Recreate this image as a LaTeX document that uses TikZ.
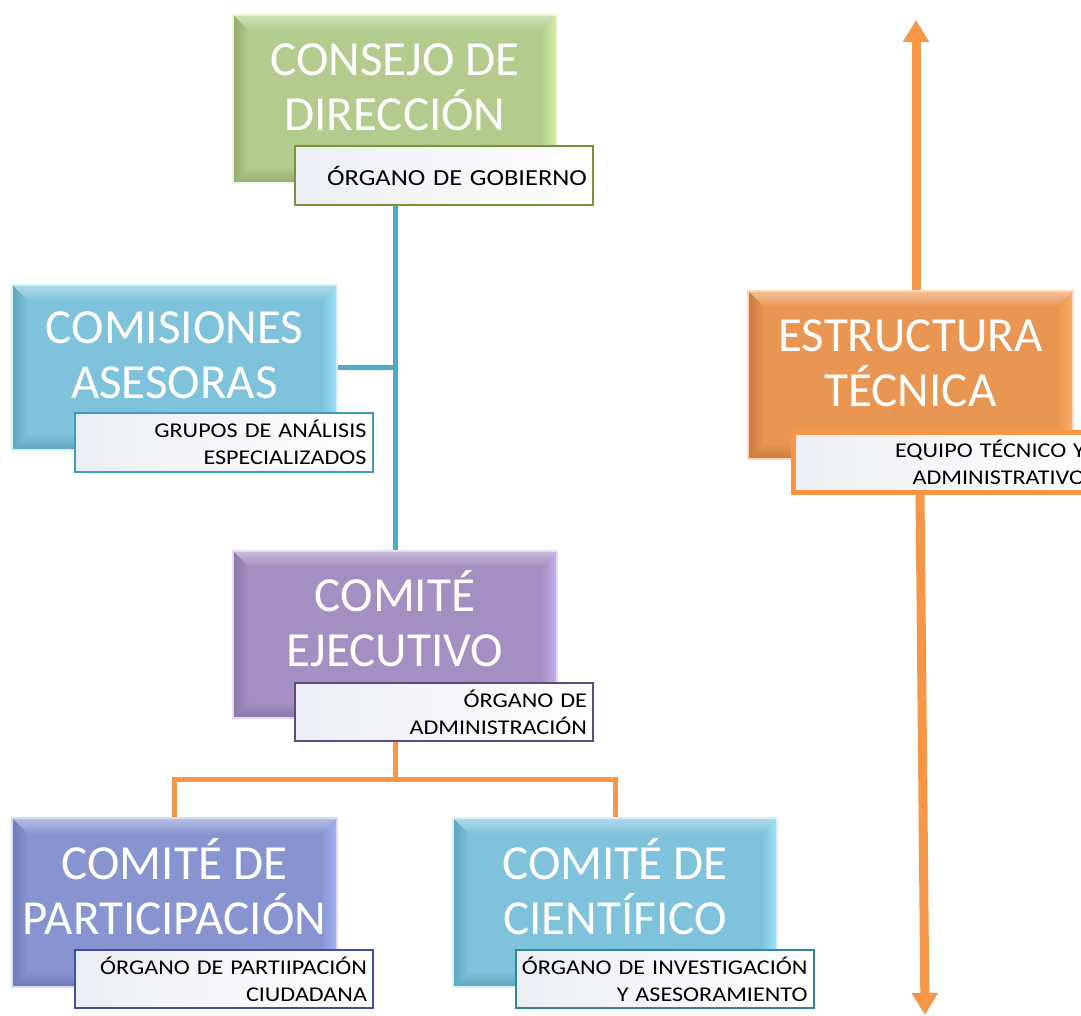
\documentclass[tikz,border=0pt]{standalone}
\usepackage{fontspec}
\setmainfont{Carlito}
\newfontfamily\lblfont[FakeStretch=1.15]{Carlito}
\usetikzlibrary{arrows.meta,backgrounds}
\definecolor{gBase}{HTML}{B3CB8C}\definecolor{gDark}{HTML}{93AD6E}\definecolor{gLight}{HTML}{D6F0A8}\definecolor{gBorder}{HTML}{77933C}
\definecolor{bBase}{HTML}{7EC2DB}\definecolor{bDark}{HTML}{5FA3BD}\definecolor{bLight}{HTML}{9BE3FA}\definecolor{bBorder}{HTML}{3E9DBB}
\definecolor{pBase}{HTML}{A48FC2}\definecolor{pDark}{HTML}{8A76A8}\definecolor{pLight}{HTML}{C4B0EA}\definecolor{pBorder}{HTML}{604A7B}
\definecolor{vBase}{HTML}{8894D0}\definecolor{vDark}{HTML}{6E7AB4}\definecolor{vLight}{HTML}{A3B3F6}\definecolor{vBorder}{HTML}{3F4FA0}
\definecolor{oBase}{HTML}{EA9653}\definecolor{oDark}{HTML}{C97A41}\definecolor{oLight}{HTML}{FBAE62}\definecolor{oLine}{HTML}{F79646}
\definecolor{cBorder}{HTML}{31859C}\definecolor{tealLine}{HTML}{4BACC6}\definecolor{lblL}{HTML}{EBEEF4}
\newcommand{\nohyph}{\hyphenpenalty=10000\relax\exhyphenpenalty=10000\relax}
\tikzset{
  mbox/.style n args={3}{rectangle, inner sep=0pt, fill=#1, draw=#3!45, line width=2.5pt,
    path picture={
      \path (path picture bounding box.north west) coordinate (pnw)
            (path picture bounding box.north east) coordinate (pne)
            (path picture bounding box.south west) coordinate (psw)
            (path picture bounding box.south east) coordinate (pse);
      \shade[top color=#1!60!white, bottom color=#1] (pnw) -- (pne) -- ([shift={(-16,16)}]pne) -- ([shift={(16,16)}]pnw) -- cycle;
      \shade[top color=#1, bottom color=#2] (psw) -- (pse) -- ([shift={(-16,-16)}]pse) -- ([shift={(16,-16)}]psw) -- cycle;
      \shade[left color=#2, right color=#1] (pnw) -- ([shift={(16,16)}]pnw) -- ([shift={(16,-16)}]psw) -- (psw) -- cycle;
      \shade[left color=#1, right color=#3] (pne) -- (pse) -- ([shift={(-16,-16)}]pse) -- ([shift={(-16,16)}]pne) -- cycle;
    }},
  mtext/.style={text=white, font=\fontsize{49}{55}\selectfont, align=center, inner sep=0pt, yshift=16pt},
  lbl/.style={rectangle, minimum width=298pt, minimum height=58pt, text width=286pt, inner xsep=6pt, inner ysep=0pt,
    align=right, line width=2pt, draw=#1, left color=lblL, right color=white, text=black,
    font=\lblfont\fontsize{21}{26.7}\selectfont\nohyph},
  tealconn/.style={draw=tealLine, line width=5pt},
  orconn/.style={draw=oLine, line width=5pt},
  bigarrow/.style={draw=oLine, line width=9pt, -{Triangle[width=25pt,length=22pt]}},
}
\newcommand{\hl}{\rule{0pt}{40pt}}
\begin{document}
\begin{tikzpicture}[x=1pt,y=-1pt]
\useasboundingbox (0,0) rectangle (1081,1016);
\clip (0,0) rectangle (1081,1016);
% main boxes
\node[mbox={gBase}{gDark}{gLight}, minimum width=324pt, minimum height=168pt] (cd) at (395,99) {};
\node[mbox={bBase}{bDark}{bLight}, minimum width=325pt, minimum height=165pt] (ca) at (174.5,367.5) {};
\node[mbox={pBase}{pDark}{pLight}, minimum width=324pt, minimum height=167pt] (ce) at (395,634.5) {};
\node[mbox={vBase}{vDark}{vLight}, minimum width=325pt, minimum height=169pt] (cp) at (174.5,902.5) {};
\node[mbox={bBase}{bDark}{bLight}, minimum width=324pt, minimum height=169pt] (cc) at (615,902.5) {};
\node[mbox={oBase}{oDark}{oLight}, minimum width=325pt, minimum height=168pt] (et) at (910.5,375) {};
% main texts
\node[mtext] (cdT) at (cd) {\hl CONSEJO DE\\DIRECCIÓN};
\node[mtext] (caT) at (ca) {\hl COMISIONES\\ASESORAS};
\node[mtext] (ceT) at (ce) {\hl COMITÉ\\EJECUTIVO};
\node[mtext] (cpT) at (cp) {\hl COMITÉ DE\\PARTICIPACIÓN};
\node[mtext] (ccT) at (cc) {\hl COMITÉ DE\\CIENTÍFICO};
\node[mtext] (etT) at (et) {\hl ESTRUCTURA\\TÉCNICA};
% labels
\node[lbl=gBorder, minimum height=59pt, font=\lblfont\fontsize{23}{27}\selectfont\nohyph] (cdl) at (444,175.5) {ÓRGANO DE GOBIERNO};
\node[lbl=bBorder, minimum height=59pt] (cal) at (223.5,442.5) {GRUPOS DE ANÁLISIS\\ESPECIALIZADOS};
\node[lbl=pBorder] (cel) at (444,712) {ÓRGANO DE\\ADMINISTRACIÓN};
\node[lbl=vBorder] (cpl) at (224,979) {ÓRGANO DE PARTIIPACIÓN\\CIUDADANA};
\node[lbl=cBorder] (ccl) at (664.5,979) {ÓRGANO DE INVESTIGACIÓN\\Y ASESORAMIENTO};
\node[lbl=oLine, line width=5pt, minimum height=60pt] (etl) at (942,462) {EQUIPO TÉCNICO Y\\ADMINISTRATIVO};
% connectors
\coordinate (bus) at (395,779);
\coordinate (atop) at (916,20);
\coordinate (abot) at (925,1015);
\begin{pgfonlayer}{background}
\draw[tealconn] (cd.south) -- (ce.north);
\draw[tealconn] (ca.east) -- (ca.east -| cd.south);
\draw[orconn] (ce.south) -- (bus);
\draw[orconn] (cp.north) |- (bus) -| (cc.north);
\end{pgfonlayer}
\draw[bigarrow] (atop |- et.north) -- (atop);
\draw[bigarrow] ([xshift=-22pt]etl.south) -- (abot);
\end{tikzpicture}
\end{document}
